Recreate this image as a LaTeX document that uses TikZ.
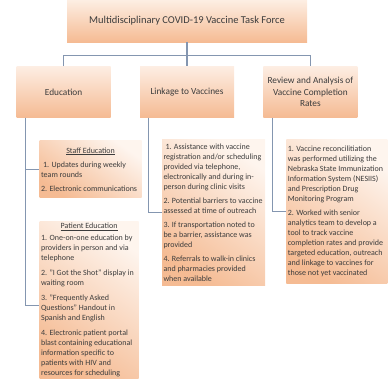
\documentclass[tikz,border=0pt]{standalone}
\usepackage{fontspec}
\setmainfont{Carlito}
\usepackage{tikz}
\usetikzlibrary{positioning}

\definecolor{peachlight}{HTML}{FDEEE3}
\definecolor{peachdark}{HTML}{F5BB93}
\definecolor{linkgray}{HTML}{8496B0}
\definecolor{inkgray}{HTML}{3C3C3C}

\tikzset{
    headbox/.style={inner sep=0pt, text=inkgray, align=center,
        top color=peachlight, bottom color=peachdark},
    textbox/.style={inner xsep=1.5pt, inner ysep=0pt, text=inkgray, align=left,
        top color=peachlight!60!white, bottom color=peachdark, shading angle=-35,
        font=\fontsize{8}{10}\selectfont},
    link/.style={draw=linkgray, line width=1.2pt}
}

\begin{document}
\begin{tikzpicture}[x=1pt, y=-1pt]
    \useasboundingbox (0,0) rectangle (388,378);

    \node[headbox, minimum width=240pt, minimum height=42pt, font=\fontsize{10.5}{12}\selectfont] (task) at (187,21) {Multidisciplinary COVID-19 Vaccine Task Force};

    \node[headbox, minimum width=94pt, minimum height=51pt, below=24pt of task, font=\fontsize{9.3}{11.5}\selectfont] (link) {Linkage to Vaccines};
    \node[headbox, minimum width=94pt, minimum height=51pt, left=29pt of link, font=\fontsize{9.3}{11.5}\selectfont] (edu) {Education};
    \node[headbox, minimum width=94pt, minimum height=51pt, right=29pt of link, font=\fontsize{9.3}{11.5}\selectfont] (rev) {Review and Analysis of\\Vaccine Completion\\Rates};

    \node[textbox, minimum width=102pt, minimum height=57pt, below=23pt of edu.south west, anchor=north west, xshift=23pt] (staff) {%
        \makebox[99pt]{\underline{Staff Education}}\\[4pt]
        \hspace{2pt}1. Updates during weekly\\team rounds\\[4pt]
        2. Electronic communications};
    \node[textbox, minimum width=99pt, minimum height=157pt, below=23pt of staff.south west, anchor=north west] (pat) {%
        \makebox[96pt]{\underline{Patient Education}}\\[2pt]
        1. One-on-one education by\\providers in person and via\\telephone\\[5pt]
        2. "I Got the Shot" display in\\waiting room\\[5pt]
        3. "Frequently Asked\\Questions" Handout in\\Spanish and English\\[5pt]
        4. Electronic patient portal\\blast containing educational\\information specific to\\patients with HIV and\\resources for scheduling};

    \node[textbox, minimum width=103pt, minimum height=146pt, below=22pt of link.south west, anchor=north west, xshift=22pt] (linktext) {%
        \makebox[100pt][l]{\hspace{2pt}1. Assistance with vaccine}\\registration and/or scheduling\\provided via telephone,\\electronically and during in-\\person during clinic visits\\[4pt]
        2. Potential barriers to vaccine\\assessed at time of outreach\\[4pt]
        3. If transportation noted to\\be a barrier, assistance was\\provided\\[4pt]
        4. Referrals to walk-in clinics\\and pharmacies provided\\when available};
    \node[textbox, minimum width=101pt, minimum height=144pt, below=22pt of rev.south west, anchor=north west, xshift=23pt] (revtext) {%
        \makebox[98pt][l]{1. Vaccine reconcilitiation}\\was performed utilizing the\\Nebraska State Immunization\\Information System (NESIIS)\\and Prescription Drug\\Monitoring Program\\[4pt]
        2. Worked with senior\\analytics team to develop a\\tool to track vaccine\\completion rates and provide\\targeted education, outreach\\and linkage to vaccines for\\those not yet vaccinated};

    \draw[link] (task.south) -- ++(0,13) coordinate (split);
    \draw[link] (edu.north) |- (split) -| (rev.north);
    \draw[link] (split) -- (link.north);

    \draw[link] ([xshift=9pt]edu.south west) |- (staff.west);
    \draw[link] ([xshift=9pt]edu.south west) |- ([yshift=-6pt]pat.west);
    \draw[link] ([xshift=9pt]link.south west) |- (linktext.west);
    \draw[link] ([xshift=9pt]rev.south west) |- (revtext.west);
\end{tikzpicture}
\end{document}
